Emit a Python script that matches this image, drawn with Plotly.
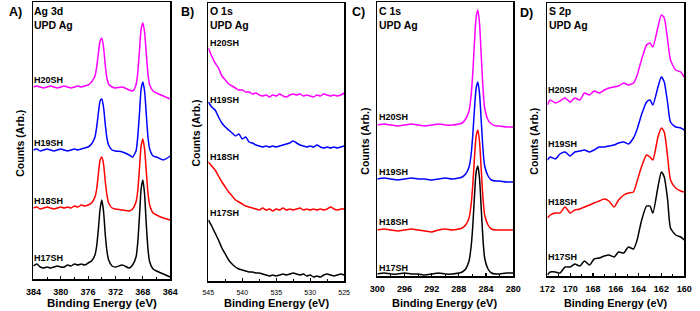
import plotly.graph_objects as go

W, H = 700, 311

# ---------------- Panel A: Ag 3d ----------------
ag_x = [384, 383.5, 383, 382.5, 382, 381.5, 381, 380.5, 380, 379.5, 379, 378.5, 378, 377.5, 377, 376.5, 376,
        375.5, 375, 374.75, 374.5, 374.25, 374, 373.75, 373.5, 373.25, 373, 372.5, 372, 371, 370,
        369.5, 369, 368.75, 368.5, 368.25, 368, 367.75, 367.5, 367.25, 367, 366.5, 366, 365, 364]
ag_h20 = [192, 193, 192, 191, 192, 193, 192, 191, 192, 193, 192, 191, 192, 193, 192, 193, 194,
          197, 203, 212, 226, 238, 241, 232, 214, 201, 195, 192, 191, 192, 189,
          188, 194, 206, 228, 250, 256, 247, 226, 205, 194, 188, 186, 183, 180]
ag_h19 = [129, 130, 128, 129, 130, 129, 128, 129, 130, 129, 128, 129, 130, 129, 130, 131, 132,
          135, 142, 152, 166, 178, 180, 172, 155, 141, 134, 129, 128, 127, 124,
          122, 128, 142, 165, 190, 197, 188, 165, 142, 130, 123, 122, 119, 123]
ag_h18 = [71, 72, 70, 71, 72, 71, 70, 71, 72, 71, 72, 71, 73, 72, 74, 73, 74,
          76, 82, 90, 105, 119, 122, 115, 98, 84, 76, 71, 70, 69, 68,
          70, 77, 88, 110, 133, 140, 130, 108, 86, 74, 66, 64, 61, 59]
ag_h17 = [13, 15, 12, 11, 12, 11, 12, 13, 12, 12, 14, 13, 15, 14, 15, 14, 16,
          18, 24, 33, 50, 70, 79, 68, 45, 28, 19, 13, 12, 14, 11,
          14, 22, 36, 62, 90, 99, 85, 55, 30, 17, 10, 8, 5, 2]

# ---------------- Panel B: O 1s ----------------
o_x = [545, 544.5, 544, 543.5, 543, 542.5, 542, 541.5, 541, 540.5, 540, 539.5, 539, 538.5, 538, 537.5, 537,
       536.5, 536, 535.5, 535, 534.5, 534, 533.5, 533, 532.5, 532, 531.5, 531, 530.5, 530, 529.5, 529,
       528.5, 528, 527.5, 527, 526.5, 526, 525.5, 525]
o_h20 = [232, 224, 217, 212, 204, 200, 196, 194, 192, 190, 190, 188, 188, 186, 187, 185, 184,
         185, 183, 185, 184, 186, 184, 183, 185, 186, 185, 186, 184, 185, 184, 183, 185,
         184, 186, 185, 184, 185, 184, 185, 187]
o_h19 = [178, 173, 170, 163, 157, 153, 150, 147, 144, 146, 141, 143, 138, 137, 135, 134, 133,
         134, 133, 134, 133, 134, 135, 136, 137, 139, 137, 135, 134, 133, 134, 133, 135,
         133, 132, 133, 132, 133, 132, 133, 134]
o_h18 = [118, 114, 110, 104, 98, 93, 88, 84, 80, 78, 76, 74, 73, 72, 71, 70, 72,
         70, 71, 69, 71, 70, 72, 70, 71, 70, 71, 72, 70, 71, 70, 71, 70,
         71, 70, 71, 73, 71, 70, 71, 71]
o_h17 = [60, 54, 47, 40, 32, 26, 20, 16, 13, 11, 10, 9, 8, 8, 7, 7, 6,
         5, 4, 5, 4, 5, 6, 5, 6, 7, 6, 5, 6, 4, 5, 3, 4,
         3, 5, 6, 5, 4, 5, 6, 5]

# ---------------- Panel C: C 1s ----------------
c_x = [300, 299, 298, 297, 296, 295, 294, 293, 292, 291, 290, 289, 288,
       287.5, 287, 286.5, 286.2, 285.95, 285.7, 285.45, 285.2, 284.95, 284.7, 284.45, 284.2,
       283.7, 283.2, 282.5, 282, 281, 280]
c_h20 = [151, 152, 151, 150, 151, 152, 151, 150, 151, 152, 151, 151, 152,
         153, 157, 165, 180, 203, 234, 259, 266, 252, 220, 188, 168,
         156, 152, 150, 150, 149, 149]
c_h19 = [97, 98, 97, 96, 97, 98, 97, 97, 96, 97, 98, 97, 98,
         99, 102, 109, 121, 141, 167, 188, 194, 182, 155, 127, 110,
         100, 96, 95, 95, 94, 94]
c_h18 = [46, 47, 46, 45, 46, 47, 46, 45, 44, 46, 47, 46, 47,
         48, 51, 58, 71, 91, 118, 140, 146, 134, 106, 78, 61,
         51, 47, 46, 46, 46, 46]
c_h17 = [2, 3, 2, 2, 3, 2, 2, 1, 2, 3, 2, 2, 3,
         4, 7, 15, 29, 50, 80, 104, 110, 97, 67, 37, 18,
         7, 3, 2, 2, 3, 3]

# ---------------- Panel D: S 2p ----------------
s_x = [172.0, 171.75, 171.3, 170.9, 170.45, 170.0, 169.6, 169.15, 168.75, 168.3, 167.9, 167.45, 167.0,
       166.6, 166.15, 165.75, 165.3, 164.9, 164.45, 164.15, 163.75, 163.3, 163.0, 162.75, 162.3,
       162.0, 161.75, 161.45, 161.2, 160.75, 160.3, 160.0]
s_h20 = [171, 176, 173, 175, 178, 174, 178, 176, 183, 181, 185, 183, 186,
         188, 189, 190, 193, 191, 193, 200, 216, 231, 233, 229, 249,
         261, 258, 236, 216, 206, 204, 199]
s_h19 = [116, 119, 117, 122, 124, 120, 124, 125, 126, 124, 126, 129, 129,
         130, 131, 133, 134, 132, 138, 146, 161, 174, 176, 171, 189,
         199, 194, 173, 154, 149, 148, 146]
s_h18 = [58, 61, 63, 63, 69, 63, 66, 67, 69, 71, 73, 75, 77,
         75, 69, 76, 81, 83, 84, 94, 109, 121, 119, 116, 139,
         148, 144, 119, 96, 88, 85, 84]
s_h17 = [1, 4, 4, 3, 9, 9, 12, 10, 15, 11, 17, 18, 20,
         21, 19, 24, 23, 29, 27, 35, 55, 70, 70, 63, 89,
         104, 99, 76, 48, 41, 39, 36]

series_names = ["H20SH", "H19SH", "H18SH", "H17SH"]
colors = ["#FF00FF", "#0000FF", "#FF0000", "#000000"]

FONT = "Liberation Sans, Arial, sans-serif"

def px_x(a, b):
    return [a / W, b / W]

def px_y(top, bottom):
    return [1 - bottom / H, 1 - top / H]

panels = [
    dict(x=ag_x, ys=[ag_h20, ag_h19, ag_h18, ag_h17], dom_x=(26, 166), dom_y=(2, 279),
         xr=[384, 364], yr=[0, 277], dtick=4, minor=2, tick0=364,
         tfont=dict(size=9, weight="bold")),
    dict(x=o_x, ys=[o_h20, o_h19, o_h18, o_h17], dom_x=(205, 344), dom_y=(3, 281),
         xr=[545, 525], yr=[-1, 277], dtick=5, minor=2.5, tick0=525,
         tfont=dict(size=7, weight="normal")),
    dict(x=c_x, ys=[c_h20, c_h19, c_h18, c_h17], dom_x=(378, 517), dom_y=(2, 276),
         xr=[300, 280], yr=[0, 274], dtick=4, minor=2, tick0=280,
         tfont=dict(size=9, weight="bold")),
    dict(x=s_x, ys=[s_h20, s_h19, s_h18, s_h17], dom_x=(552, 692), dom_y=(3, 276),
         xr=[172, 160], yr=[0, 273], dtick=2, minor=1, tick0=160,
         tfont=dict(size=9, weight="bold")),
]

fig = go.Figure()
layout = dict(width=W, height=H, margin=dict(l=0, r=0, t=0, b=0),
              paper_bgcolor="white", plot_bgcolor="white", showlegend=False)

for i, p in enumerate(panels):
    n = "" if i == 0 else str(i + 1)
    for name, col, yv in zip(series_names, colors, p["ys"]):
        fig.add_trace(go.Scatter(x=p["x"], y=yv, mode="lines", name=name,
                                 line=dict(color=col, width=1.5, shape="spline", smoothing=0.6),
                                 xaxis="x" + n, yaxis="y" + n, hoverinfo="skip"))
    tf = dict(family=FONT, color="black")
    tf.update(p["tfont"])
    layout["xaxis" + n] = dict(domain=px_x(*p["dom_x"]), range=p["xr"], anchor="y" + n,
                               showline=True, linecolor="black", linewidth=1.5, mirror=True,
                               ticks="inside", ticklen=3.5, tickwidth=1.2, tickcolor="black",
                               dtick=p["dtick"], tick0=p["tick0"], showgrid=False, zeroline=False,
                               tickfont=tf, ticklabelstandoff=4,
                               minor=dict(ticks="inside", ticklen=2, tickwidth=1, tickcolor="black",
                                          dtick=p["minor"], tick0=p["tick0"], showgrid=False))
    layout["yaxis" + n] = dict(domain=px_y(*p["dom_y"]), range=p["yr"], anchor="x" + n,
                               showline=True, linecolor="black", linewidth=1.5, mirror=True,
                               ticks="", showticklabels=False, showgrid=False, zeroline=False)

fig.update_layout(**layout)

def ann(text, x, y, size, xanchor="left", angle=0, bold=True):
    fig.add_annotation(text=("<b>%s</b>" % text) if bold else text, x=x / W, y=1 - y / H,
                       xref="paper", yref="paper", showarrow=False, xanchor=xanchor,
                       yanchor="middle", textangle=angle, borderpad=0,
                       font=dict(family=FONT, size=size, color="black"))

panel_letters = ["A)", "B)", "C)", "D)"]
letter_pos = [(0, 12), (176, 12), (351, 12), (523, 13)]
elements = ["Ag 3d", "O 1s", "C 1s", "S 2p"]
elem_x = [26, 206, 379, 553]
label_x = [26, 206, 379, 552]
label_y = [[80, 143, 201, 258], [43, 100, 157, 213], [117, 172, 222, 268], [90, 144, 202, 257]]
ytitle_pos = [(12, 143), (192, 133), (365, 141), (538, 141)]
xtitle_pos = [(96, 303, 11.5), (275, 303, 11), (447, 303, 11), (622, 303, 10.8)]

for i in range(4):
    ann(panel_letters[i], letter_pos[i][0], letter_pos[i][1], 12.5)
    ann(elements[i], elem_x[i], 11, 10.5)
    ann("UPD Ag", elem_x[i], 25, 10.5)
    for name, ly in zip(series_names, label_y[i]):
        ann(name, label_x[i], ly, 9)
    ann("Counts (Arb.)", ytitle_pos[i][0], ytitle_pos[i][1], 10.5, xanchor="center", angle=-90)
    ann("Binding Energy (eV)", xtitle_pos[i][0], xtitle_pos[i][1], xtitle_pos[i][2], xanchor="center")

fig.write_html("out.html", config={"displayModeBar": False, "staticPlot": True},
               post_script="document.body.style.margin='0px';")
